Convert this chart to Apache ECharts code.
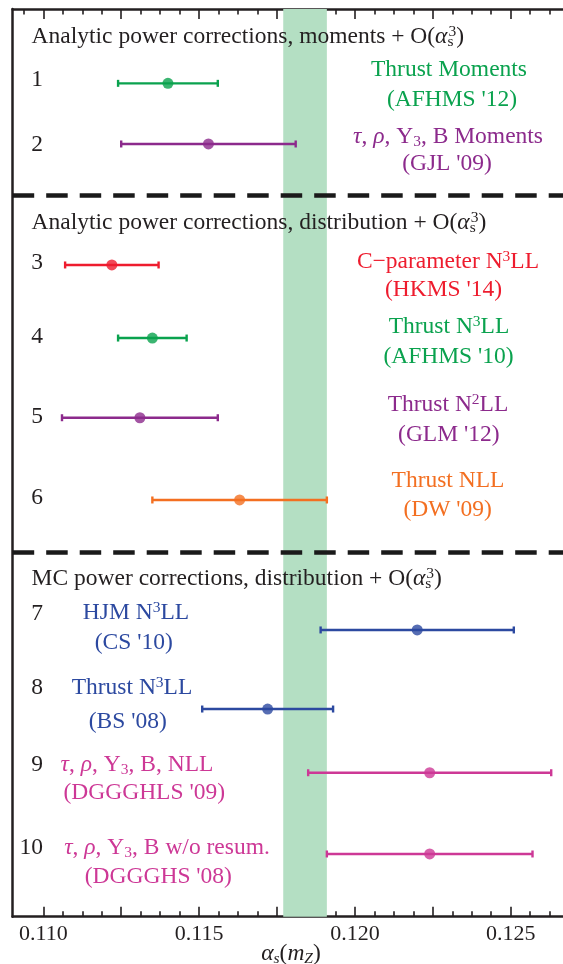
<!DOCTYPE html>
<html>
<head>
<meta charset="utf-8">
<script src="https://cdn.jsdelivr.net/npm/echarts@6/dist/echarts.min.js"></script>
<style>
  html, body { margin: 0; padding: 0; background: #ffffff; }
  #chart { width: 563px; height: 964px; }
</style>
</head>
<body>
<div id="chart"></div>
<script>
// ---- measurements of alpha_s(mZ), one entry per row (top to bottom) ----
const rowNumbers   = ['1', '2', '3', '4', '5', '6', '7', '8', '9', '10'];
const centralValue = [0.1140, 0.1153, 0.1122, 0.1135, 0.1131, 0.1163, 0.1220, 0.1172, 0.1224, 0.1224];
const lowerEdge    = [0.1124, 0.1125, 0.1107, 0.1124, 0.1106, 0.1135, 0.1189, 0.1151, 0.1185, 0.1191];
const upperEdge    = [0.1156, 0.1181, 0.1137, 0.1146, 0.1156, 0.1191, 0.1251, 0.1193, 0.1263, 0.1257];
const rowGroup     = ['green', 'purple', 'red', 'green', 'purple', 'orange', 'blue', 'blue', 'magenta', 'magenta'];

// world average band
const bandLow  = 0.1177;
const bandHigh = 0.1191;

// axis ticks and labels
const majorTickValues = [0.110, 0.1125, 0.115, 0.1175, 0.120, 0.1225, 0.125];
const tickLabelValues = [0.110, 0.115, 0.120, 0.125];

// section headings and per-row captions (rich-text markup)
const headings = [
  '{t|Analytic power corrections, moments + O(}{i|α}{sz|s}{sp|3}{t|)}',
  '{t|Analytic power corrections, distribution + O(}{i|α}{sz|s}{sp|3}{t|)}',
  '{t|MC power corrections, distribution + O(}{i|α}{sz|s}{sp|3}{t|)}'
];
const captionTop = [
  '{t|Thrust Moments}',
  '{i|τ}{t|, }{i|ρ}{t|, Y}{sb|3}{t|, B Moments}',
  '{t|C−parameter N}{sp|3}{t|LL}',
  '{t|Thrust N}{sp|3}{t|LL}',
  '{t|Thrust N}{sp|2}{t|LL}',
  '{t|Thrust NLL}',
  '{t|HJM N}{sp|3}{t|LL}',
  '{t|Thrust N}{sp|3}{t|LL}',
  '{i|τ}{t|, }{i|ρ}{t|, Y}{sb|3}{t|, B, NLL}',
  '{i|τ}{t|, }{i|ρ}{t|, Y}{sb|3}{t|, B w/o resum.}'
];
const captionBottom = [
  "{t|(AFHMS '12)}", "{t|(GJL '09)}", "{t|(HKMS '14)}", "{t|(AFHMS '10)}", "{t|(GLM '12)}",
  "{t|(DW '09)}", "{t|(CS '10)}", "{t|(BS '08)}", "{t|(DGGGHLS '09)}", "{t|(DGGGHS '08)}"
];
const axisTitle = '{i|α}{ib|s}{t|(}{i|m}{ib|Z}{t|)}';

// ---- styling / layout ----
const palette = {
  green: '#0aa24e', purple: '#8c2a8c', red: '#ee1c2e', orange: '#f36f21',
  blue: '#2c49a0', magenta: '#cd3896'
};
const ink = '#231f20';
const serif = 'Liberation Serif, Times New Roman, serif';

// vertical slot of each row and of the section dividers (0 = top of frame, 100 = bottom)
const rowSlot = [8.19, 14.87, 28.20, 36.25, 45.03, 54.09, 68.41, 77.12, 84.14, 93.09];
const dividerSlot = [20.49, 59.85];

// caption anchors in pixels: [x, yTop, yBottom]
const captionAt = [
  [449, 70, 100], [448, 136.7, 164], [448, 261.7, 290], [449, 326.7, 356.7], [448, 405, 435],
  [448, 481, 510], [136, 613.3, 643.3], [132, 688.3, 721.7], [137, 765, 793.3], [167, 848.3, 876.7]
];
const captionBottomX = [452, 447, 443.5, 448.5, 448.8, 447.6, 133.8, 127.8, 144.2, 158.3];
const numberY = [80, 145, 262.7, 336.7, 416.7, 498.3, 614, 688.3, 765, 848.3];
const headingY = [37.3, 223.3, 579.3];

const chartWidth = 563;
const gridLeft = 12.7, gridTop = 9, gridHeight = 907.7;
const gridWidth = chartWidth - gridLeft;       // frame runs off the right edge
const pxPerUnit = 31160;                       // pixels per unit of alpha_s
const xMin = 0.110 - (43.3 - gridLeft) / pxPerUnit;
const xMax = xMin + gridWidth / pxPerUnit;

// minor ticks: four subdivisions between major ticks
const minorTickValues = [];
for (let k = 1; k <= 26; k++) {
  if (k % 4 !== 0) minorTickValues.push(+(0.110 + k * 0.000625).toFixed(6));
}
const minorTop = [0.109375].concat(minorTickValues);

const baseSize = 23.5;
const rich = {
  t:  { fontFamily: serif, fontSize: baseSize, lineHeight: 26 },
  i:  { fontFamily: serif, fontSize: baseSize, lineHeight: 26, fontStyle: 'italic' },
  sp: { fontFamily: serif, fontSize: 15.5, lineHeight: 12, verticalAlign: 'top' },
  sb: { fontFamily: serif, fontSize: 15.5, lineHeight: 12, verticalAlign: 'bottom' },
  sz: { fontFamily: serif, fontSize: 15.5, lineHeight: 12, verticalAlign: 'bottom', width: 1 },
  ib: { fontFamily: serif, fontSize: 15.5, lineHeight: 12, verticalAlign: 'bottom', fontStyle: 'italic' }
};

function textEl(markup, x, y, color, align) {
  return {
    type: 'text', x: x, y: y, z: 50, silent: true,
    style: {
      text: markup, rich: rich, fill: color, align: align, verticalAlign: 'middle',
      fontFamily: serif, fontSize: baseSize
    }
  };
}

const graphics = [];
headings.forEach((h, i) => graphics.push(textEl(h, 31.6, headingY[i], ink, 'left')));
rowNumbers.forEach((n, i) => graphics.push(textEl('{t|' + n + '}', 43, numberY[i], ink, 'right')));
captionTop.forEach((c, i) => {
  const col = palette[rowGroup[i]];
  graphics.push(textEl(c, captionAt[i][0], captionAt[i][1], col, 'center'));
  graphics.push(textEl(captionBottom[i], captionBottomX[i], captionAt[i][2], col, 'center'));
});
graphics.push(textEl(axisTitle, 291, 954, ink, 'center'));

const barData = rowNumbers.map((_, i) => ({
  value: [lowerEdge[i], upperEdge[i], rowSlot[i]],
  itemStyle: { color: palette[rowGroup[i]] }
}));
const pointData = rowNumbers.map((_, i) => ({
  value: [centralValue[i], rowSlot[i]],
  itemStyle: { color: palette[rowGroup[i]] }
}));

function xAxisDef(position, ticks, len, showLine, labels) {
  return {
    type: 'value', position: position, min: xMin, max: xMax,
    axisLine: { show: showLine, onZero: false, lineStyle: { color: ink, width: 2.5 } },
    axisTick: { show: true, inside: true, length: len, customValues: ticks,
                lineStyle: { color: ink, width: 1.6 } },
    axisLabel: labels ? {
      show: true, customValues: tickLabelValues, margin: 7,
      formatter: v => v.toFixed(3),
      fontFamily: serif, fontSize: 22, color: ink
    } : { show: false },
    splitLine: { show: false }
  };
}

const chart = echarts.init(document.getElementById('chart'), null, { renderer: 'canvas' });
chart.setOption({
  animation: false,
  backgroundColor: '#ffffff',
  grid: { left: gridLeft, top: gridTop, width: gridWidth, height: gridHeight },
  xAxis: [
    xAxisDef('bottom', majorTickValues, 10, true, true),
    xAxisDef('bottom', minorTickValues, 5.5, false, false),
    xAxisDef('top', majorTickValues, 10, true, false),
    xAxisDef('top', minorTop, 5.5, false, false)
  ],
  yAxis: {
    type: 'value', min: 0, max: 100, inverse: true,
    axisLine: { show: true, lineStyle: { color: ink, width: 2.5 } },
    axisTick: { show: false }, axisLabel: { show: false }, splitLine: { show: false }
  },
  series: [
    {
      type: 'custom', name: 'range', xAxisIndex: 0, z: 3,
      data: barData,
      renderItem: function (params, api) {
        const lo = api.coord([api.value(0), api.value(2)]);
        const hi = api.coord([api.value(1), api.value(2)]);
        const color = api.visual('color');
        const cap = 3.5;
        const st = { stroke: color, lineWidth: 2.4 };
        return {
          type: 'group',
          children: [
            { type: 'line', shape: { x1: lo[0], y1: lo[1], x2: hi[0], y2: hi[1] }, style: st },
            { type: 'line', shape: { x1: lo[0], y1: lo[1] - cap, x2: lo[0], y2: lo[1] + cap }, style: st },
            { type: 'line', shape: { x1: hi[0], y1: hi[1] - cap, x2: hi[0], y2: hi[1] + cap }, style: st }
          ]
        };
      },
      markArea: {
        silent: true,
        itemStyle: { color: '#b4dfc3' },
        data: [[{ xAxis: bandLow }, { xAxis: bandHigh }]]
      },
      markLine: {
        silent: true, symbol: 'none', label: { show: false },
        lineStyle: { color: '#1a1a1a', width: 4.6, type: [21.5, 12] },
        data: dividerSlot.map(v => ({ yAxis: v }))
      }
    },
    {
      type: 'scatter', name: 'central', xAxisIndex: 0, z: 4,
      symbol: 'circle', symbolSize: 11,
      data: pointData
    }
  ],
  graphic: graphics
});
</script>
</body>
</html>
